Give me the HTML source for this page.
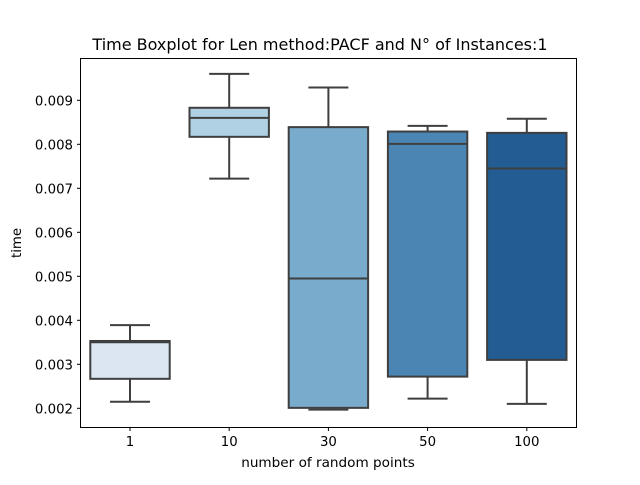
<!DOCTYPE html>
<html><head><meta charset="utf-8"><style>
body{margin:0;background:#fff;}
svg text{font-family:"DejaVu Sans","Liberation Sans",sans-serif;fill:#000;}
</style></head><body>
<svg id="chart" width="640" height="480" xmlns="http://www.w3.org/2000/svg">
<rect width="640" height="480" fill="#fff"/>
<text x="320" y="50" font-size="16" text-anchor="middle">Time Boxplot for Len method:PACF and N° of Instances:1</text>
<g id="plot"></g>
<rect x="80.5" y="58.5" width="496" height="369" fill="none" stroke="#000" stroke-width="1"/>
<text x="328" y="467" font-size="13.6" text-anchor="middle">number of random points</text>
<text transform="translate(21,243) rotate(-90)" font-size="13.3" text-anchor="middle">time</text>
</svg>
<script>
const categories = ["1","10","30","50","100"];
const whiskerLow = [0.00215,0.00722,0.00197,0.00222,0.0021];
const q1Values = [0.00267,0.00817,0.00201,0.00272,0.0031];
const medians = [0.0035,0.0086,0.00495,0.00801,0.00745];
const q3Values = [0.00353,0.00883,0.00839,0.00829,0.00826];
const whiskerHigh = [0.00389,0.0096,0.00929,0.00842,0.00858];
const yTicks = [0.002,0.003,0.004,0.005,0.006,0.007,0.008,0.009];
const colors = ["#dbe6f2","#b0d0e3","#79abcc","#4a85b3","#225c92"];
const NS="http://www.w3.org/2000/svg";
const g=document.getElementById('plot');
function y(v){return 408.3-(v-0.002)/0.001*44;}
function x(i){return 130+i*99.2;}
function mk(tag,attrs){const e=document.createElementNS(NS,tag);for(const k in attrs)e.setAttribute(k,attrs[k]);g.appendChild(e);return e;}
yTicks.forEach(t=>{
  const yy=y(t);
  const tk=mk('line',{x1:77,x2:80.5,y1:yy,y2:yy,stroke:'#000'});
  
  
  const lb=mk('text',{x:73,y:yy+5,'font-size':13.3,'text-anchor':'end'});
  lb.textContent=t.toFixed(3);
  
  
});
categories.forEach((c,i)=>{
  const cx=x(i), hw=39.7, cw=20;
  const s='#3f3f3f';
  const w1=mk('line',{x1:cx,x2:cx,y1:y(whiskerLow[i]),y2:y(q1Values[i]),stroke:s,'stroke-width':2});
  
  
  const w2=mk('line',{x1:cx,x2:cx,y1:y(q3Values[i]),y2:y(whiskerHigh[i]),stroke:s,'stroke-width':2});
  
  
  const c1=mk('line',{x1:cx-cw,x2:cx+cw,y1:y(whiskerLow[i]),y2:y(whiskerLow[i]),stroke:s,'stroke-width':2});
  
  
  const c2=mk('line',{x1:cx-cw,x2:cx+cw,y1:y(whiskerHigh[i]),y2:y(whiskerHigh[i]),stroke:s,'stroke-width':2});
  
  
  const b=mk('rect',{x:cx-hw,y:y(q3Values[i]),width:2*hw,height:y(q1Values[i])-y(q3Values[i]),fill:colors[i],stroke:s,'stroke-width':2});
  
  
  const m=mk('line',{x1:cx-hw,x2:cx+hw,y1:y(medians[i]),y2:y(medians[i]),stroke:s,'stroke-width':2});
  
  
  const tk=mk('line',{x1:cx,x2:cx,y1:427.5,y2:431,stroke:'#000'});
  
  
  const lb=mk('text',{x:cx,y:446,'font-size':13.3,'text-anchor':'middle'});
  lb.textContent=c;
  
  
});
</script>
</body></html>
